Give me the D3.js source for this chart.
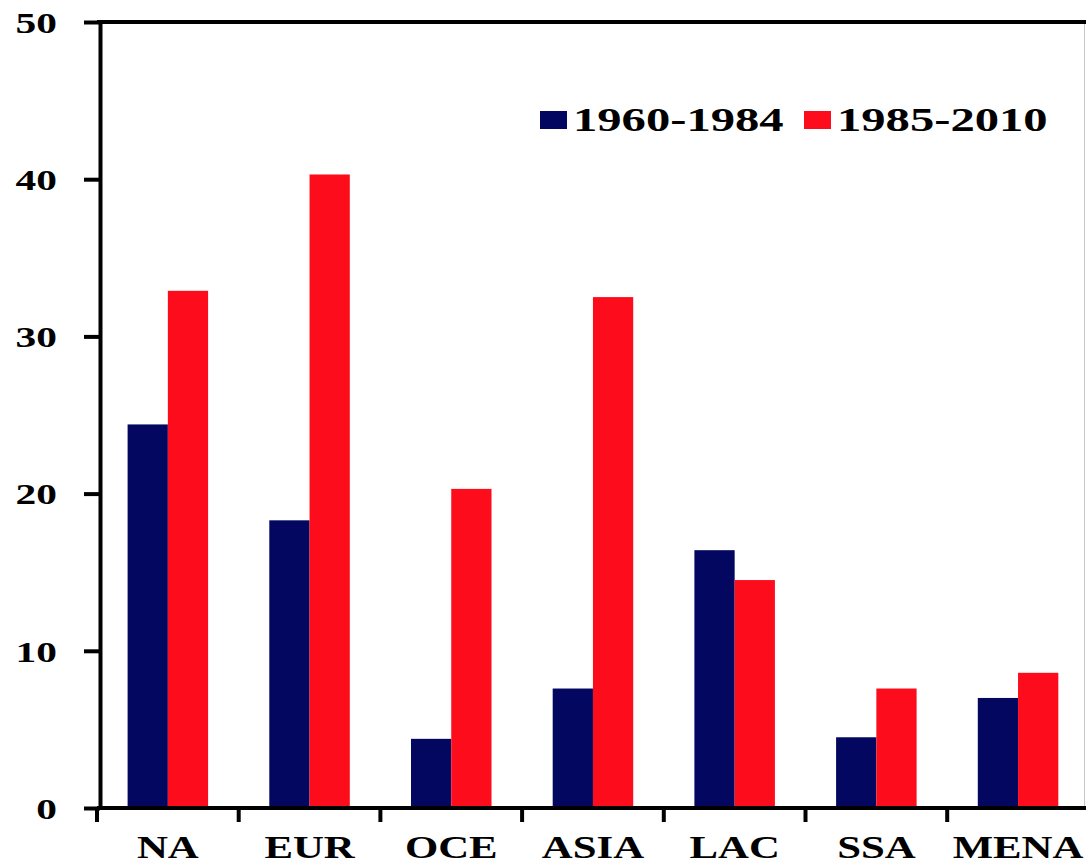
<!DOCTYPE html>
<html><head><meta charset="utf-8">
<script src="https://cdn.jsdelivr.net/npm/d3@7"></script>
<style>body{margin:0;background:#fff}svg{display:block}</style>
</head><body>
<script>
const categories = ["NA","EUR","OCE","ASIA","LAC","SSA","MENA"];
const seriesNames = ["1960-1984","1985-2010"];
const seriesColors = ["#03075f","#fd0c1c"];
const values1960 = [24.4, 18.3, 4.4, 7.6, 16.4, 4.5, 7.0];
const values1985 = [32.9, 40.3, 20.3, 32.5, 14.5, 7.6, 8.6];
const yTicks = [0,10,20,30,40,50];

const W=1086,H=866, SX=1.38, SXL=1.43;
const svg=d3.select("body").append("svg").attr("width",W).attr("height",H);
const font="'Liberation Serif','Times New Roman',serif";

const y=d3.scaleLinear().domain([0,50]).range([808,22]);
const x=d3.scaleBand().domain(categories).range([97,97+7*141.7]).paddingInner(0).paddingOuter(0);
const xs=d3.scaleBand().domain(seriesNames).range([0,x.bandwidth()]).paddingInner(0).paddingOuter(0.76);

const data=categories.map((c,i)=>({cat:c,vals:[values1960[i],values1985[i]]}));

// right border
svg.append("line").attr("x1",1084.5).attr("x2",1084.5).attr("y1",y(50)).attr("y2",y(0))
  .attr("stroke","#c8c8c8").attr("stroke-width",1);

// bars
const g=svg.append("g");
data.forEach(d=>{
  d.vals.forEach((v,j)=>{
    g.append("rect")
      .attr("x",x(d.cat)+xs(seriesNames[j]))
      .attr("y",y(v))
      .attr("width",xs.bandwidth())
      .attr("height",y(0)-y(v))
      .attr("fill",seriesColors[j]);
  });
});

// top border line
svg.append("line").attr("x1",97).attr("x2",W).attr("y1",y(50)).attr("y2",y(50))
  .attr("stroke","#000").attr("stroke-width",4);

// y axis
const yAxis=svg.append("g").attr("transform","translate(100,0)")
  .call(d3.axisLeft(y).tickValues(yTicks).tickSize(16).tickSizeOuter(0).tickPadding(0));
yAxis.select(".domain").attr("stroke","#000").attr("stroke-width",4);
yAxis.selectAll(".tick line").attr("stroke","#000").attr("stroke-width",4);
yAxis.selectAll(".tick text")
  .attr("dy","0.34em")
  .attr("font-family",font).attr("font-weight","bold").attr("font-size",30).attr("fill","#000")
  .attr("text-anchor","end")
  .attr("transform",`scale(${SX},1)`)
  .attr("x",-43/SX);

// x axis
const xAxis=svg.append("g").attr("transform",`translate(0,${y(0)})`);
xAxis.append("line").attr("x1",97).attr("x2",W).attr("y1",0).attr("y2",0)
  .attr("stroke","#000").attr("stroke-width",4);
categories.forEach(c=>{
  xAxis.append("line").attr("x1",x(c)).attr("x2",x(c)).attr("y1",0).attr("y2",14)
    .attr("stroke","#000").attr("stroke-width",4);
  xAxis.append("g").attr("transform",`translate(${x(c)+x.bandwidth()/2},50) scale(${SX},1)`)
    .append("text").attr("text-anchor","middle")
    .attr("font-family",font).attr("font-weight","bold").attr("font-size",31).attr("fill","#000")
    .text(c);
});

// legend
const legendX=[540,804];
seriesNames.forEach((s,j)=>{
  svg.append("rect").attr("x",legendX[j]).attr("y",111).attr("width",27).attr("height",18)
    .attr("fill",seriesColors[j]);
  svg.append("g").attr("transform",`translate(${legendX[j]+33},131) scale(${SXL},1)`)
    .append("text").attr("font-family",font).attr("font-weight","bold").attr("font-size",34)
    .attr("fill","#000").text(s);
});
</script>
</body></html>
